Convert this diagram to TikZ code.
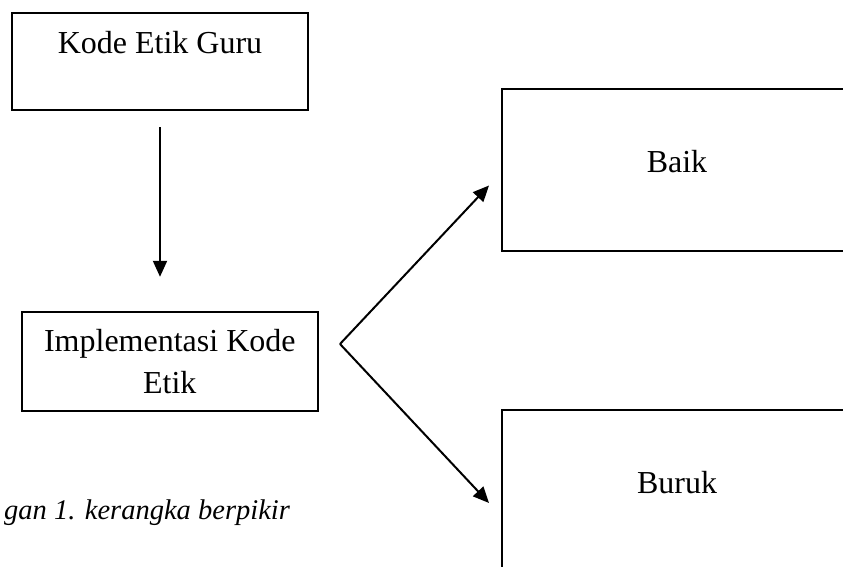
\documentclass[tikz,border=0pt]{standalone}
\usepackage{fontspec}
\setmainfont{Liberation Serif}
\usetikzlibrary{arrows.meta,positioning}
\tikzset{
	>={Triangle[length=16pt,width=14pt]},
	frame/.style={
		draw=black,
		line width=2.4pt,
		inner sep=0pt,
		align=center,
		font=\fontsize{32}{42}\selectfont
	},
	flow/.style={
		->,
		line width=2pt
	}
}

\begin{document}
\begin{tikzpicture}[x=1pt,y=-1pt]
	\useasboundingbox (0,0) rectangle (843,567);
	\clip (0,0) rectangle (843,567);

	\node [frame, minimum width=296pt, minimum height=97pt, text height=22pt, text depth=37pt] (guru) at (160,61.4) {Kode Etik Guru};
	\node [frame, minimum width=296pt, minimum height=99pt] (impl) at (169.8,361.5) {Implementasi Kode\\Etik};
	\node [frame, minimum width=350pt, minimum height=162pt, text height=22pt, text depth=16pt] (baik) at (677,169.8) {Baik};
	\node [frame, minimum width=350pt, minimum height=162pt, text height=22pt, text depth=17pt] (buruk) at (677,491.2) {Buruk};
	\node [font=\fontsize{28.5}{34}\selectfont\itshape, anchor=base west, inner sep=2pt] (caption) at (2,519) {gan 1. kerangka berpikir};

	\coordinate (fork) at (340,344);
	\coordinate (tobaik) at (489,185.5);
	\coordinate (toburuk) at (489,503);

	\draw [flow, shorten <=16pt, shorten >=34pt] (guru.south) -- (guru.south |- impl.north);
	\draw [flow] (fork) -- (tobaik);
	\draw [flow] (fork) -- (toburuk);
\end{tikzpicture}
\end{document}
